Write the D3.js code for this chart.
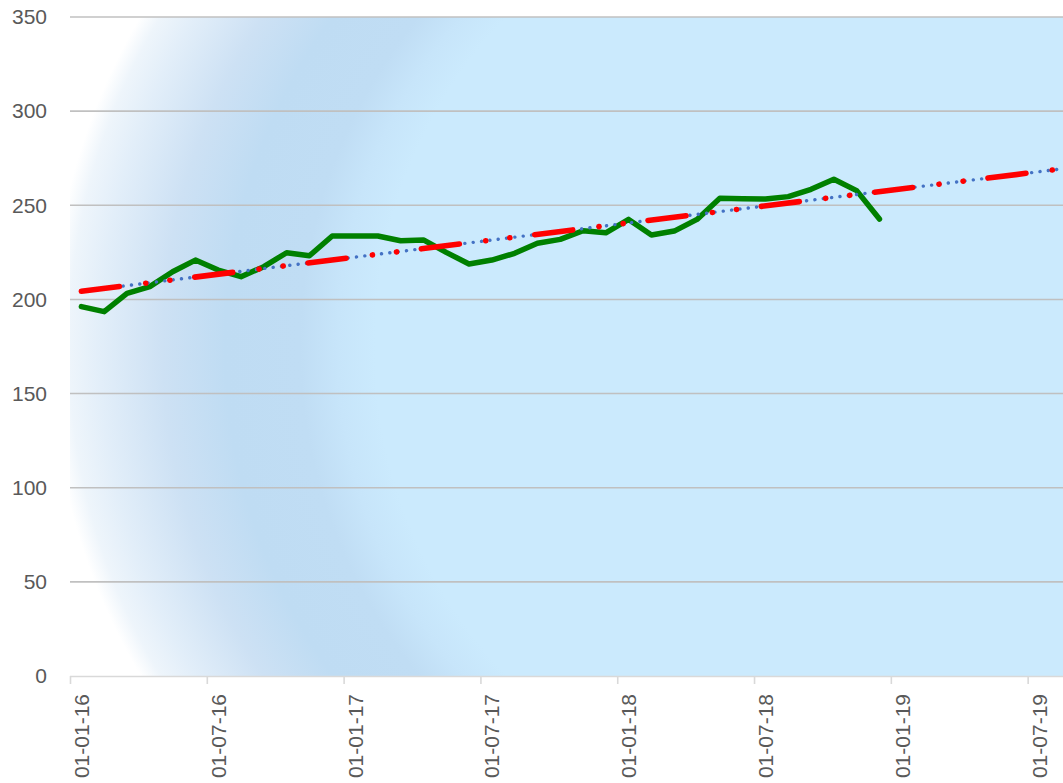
<!DOCTYPE html>
<html>
<head>
<meta charset="utf-8">
<script src="https://cdn.jsdelivr.net/npm/d3@7"></script>
<style>
  html, body { margin: 0; padding: 0; background: #ffffff; }
  svg { display: block; }
</style>
</head>
<body>
<svg id="chart" width="1063" height="783"></svg>
<script>
// ---- data ----
const months = [
  "2016-01","2016-02","2016-03","2016-04","2016-05","2016-06",
  "2016-07","2016-08","2016-09","2016-10","2016-11","2016-12",
  "2017-01","2017-02","2017-03","2017-04","2017-05","2017-06",
  "2017-07","2017-08","2017-09","2017-10","2017-11","2017-12",
  "2018-01","2018-02","2018-03","2018-04","2018-05","2018-06",
  "2018-07","2018-08","2018-09","2018-10","2018-11","2018-12"
];
const values = [
  196.2, 193.5, 203.2, 206.8, 214.7, 220.9,
  215.6, 212.1, 217.4, 224.8, 223.2, 233.7,
  233.7, 233.7, 231.2, 231.6, 225.0, 218.8,
  220.9, 224.5, 229.8, 231.9, 236.5, 235.4,
  242.5, 234.2, 236.3, 242.5, 253.7, 253.5,
  253.3, 254.6, 258.5, 263.8, 257.8, 242.7
];
const xTickLabels = ["01-01-16","01-07-16","01-01-17","01-07-17","01-01-18","01-07-18","01-01-19","01-07-19"];
const yTickValues = [0, 50, 100, 150, 200, 250, 300, 350];
const trendForecastEnd = 48; // month index the trendline is projected to

// ---- layout ----
const plot = { left: 70, right: 1063, top: 17, bottom: 676 };
const svg = d3.select("#chart");

const monthIndex = s => { const [yy, m] = s.split("-").map(Number); return (yy - 2016) * 12 + (m - 1); };
const tickIndex = s => { const [d, m, yy] = s.split("-").map(Number); return (yy - 16) * 12 + (m - 1); };

const x = d3.scaleLinear().domain([0, 43.55]).range([plot.left, plot.right]);
const y = d3.scaleLinear().domain([0, 350]).range([plot.bottom, plot.top]);

// ---- background gradient ----
const defs = svg.append("defs");
const grad = defs.append("radialGradient")
  .attr("id", "bg").attr("gradientUnits", "userSpaceOnUse")
  .attr("cx", 696).attr("cy", 346).attr("r", 646).attr("fx", 1300).attr("fy", 346);
[
  [0, "#cbeafd"], [0.74, "#cbeafd"], [0.77, "#c7e5fa"], [0.80, "#c0ddf4"],
  [0.86, "#bfdcf3"], [0.91, "#cde1f4"], [0.96, "#e2eef9"], [0.985, "#eef5fb"], [1, "#ffffff"]
].forEach(([o, c]) => grad.append("stop").attr("offset", o).attr("stop-color", c));

defs.append("clipPath").attr("id", "clip").append("rect")
  .attr("x", plot.left - 10).attr("y", 0).attr("width", plot.right - plot.left + 10).attr("height", plot.bottom);

svg.append("rect")
  .attr("x", plot.left).attr("y", plot.top)
  .attr("width", plot.right - plot.left).attr("height", plot.bottom - plot.top)
  .attr("fill", "url(#bg)");

// ---- gridlines ----
svg.append("g").selectAll("line").data(yTickValues.filter(v => v > 0)).join("line")
  .attr("x1", plot.left).attr("x2", plot.right)
  .attr("y1", d => y(d)).attr("y2", d => y(d))
  .attr("stroke", "#c0c0c0").attr("stroke-width", 1.6);

// ---- y axis labels ----
const yAxis = d3.axisLeft(y).tickValues(yTickValues).tickSize(0).tickPadding(0).tickFormat(d3.format("d"));
const gy = svg.append("g").attr("transform", `translate(${47},0)`).call(yAxis);
gy.select(".domain").remove();
gy.selectAll("text")
  .attr("font-family", "'Liberation Sans', Arial, sans-serif")
  .attr("font-size", 21).attr("fill", "#595959");

// ---- x axis ----
const tickIdx = xTickLabels.map(tickIndex);
const xAxis = d3.axisBottom(x).tickValues(tickIdx).tickSize(8).tickFormat(() => "");
const gx = svg.append("g").attr("transform", `translate(0,${plot.bottom})`).call(xAxis);
gx.select(".domain").attr("d", `M${plot.left},0.5H${plot.right}`).attr("stroke", "#d9d9d9").attr("stroke-width", 1.6);
gx.selectAll(".tick line").attr("stroke", "#d9d9d9").attr("stroke-width", 1.6);

svg.append("g").selectAll("text").data(xTickLabels).join("text")
  .attr("transform", d => `translate(${x(tickIndex(d) + 0.5)},${694}) rotate(-90)`)
  .attr("text-anchor", "end").attr("dominant-baseline", "central")
  .attr("font-family", "'Liberation Sans', Arial, sans-serif")
  .attr("font-size", 21).attr("fill", "#595959")
  .text(d => d);

// ---- series ----
const pts = months.map((m, i) => ({ t: monthIndex(m) + 0.5, v: values[i] }));
const line = d3.line().x(d => x(d.t)).y(d => y(d.v));

// linear trendline (least squares) projected forward
const mt = d3.mean(pts, d => d.t), mv = d3.mean(pts, d => d.v);
const slope = d3.sum(pts, d => (d.t - mt) * (d.v - mv)) / d3.sum(pts, d => (d.t - mt) ** 2);
const icpt = mv - slope * mt;
const trend = [pts[0].t, trendForecastEnd].map(t => ({ t, v: icpt + slope * t }));

const g = svg.append("g").attr("clip-path", "url(#clip)");
g.append("path").datum(pts).attr("d", line)
  .attr("fill", "none").attr("stroke", "#008000").attr("stroke-width", 5.5)
  .attr("stroke-linejoin", "round").attr("stroke-linecap", "round");

g.append("path").datum(trend).attr("d", line)
  .attr("fill", "none").attr("stroke", "#4472c4").attr("stroke-width", 3.4)
  .attr("stroke-linecap", "round").attr("stroke-dasharray", "0.1 8.3");

g.append("path").datum(trend).attr("d", line)
  .attr("fill", "none").attr("stroke", "#ff0000").attr("stroke-width", 5.6)
  .attr("stroke-linecap", "round").attr("stroke-dasharray", "38.3 26.5 0.1 24.2 0.1 25");
</script>
</body>
</html>
